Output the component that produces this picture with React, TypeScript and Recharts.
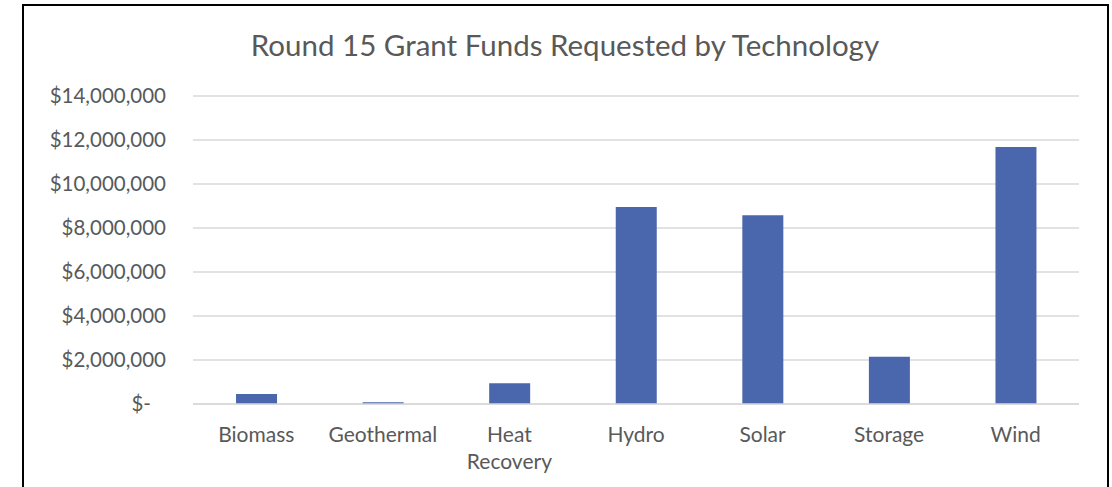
import React from "react"
import { BarChart, Bar, XAxis, YAxis, CartesianGrid } from "recharts"

const technologies = ["Biomass", "Geothermal", "Heat Recovery", "Hydro", "Solar", "Storage", "Wind"]
const fundsRequested = [460000, 80000, 940000, 8950000, 8580000, 2150000, 11680000]
const yTicks = [0, 2000000, 4000000, 6000000, 8000000, 10000000, 12000000, 14000000]

const TEXT = "#595959"
const GRID = "#d9d9d9"
const BAR = "#4A66AC"
const FONT = "'Gill Sans', Lato, 'Open Sans', sans-serif"

const chartData = technologies.map((name, i) => ({ name, funds: fundsRequested[i] }))

const fmtMoney = (v: number) => (v === 0 ? "$-" : "$" + v.toLocaleString("en-US"))

function YTick({ x, y, payload }: any) {
  const v = payload.value as number
  return (
    <text
      x={v === 0 ? x - 15 : x}
      y={y}
      dy={7}
      textAnchor="end"
      fill={TEXT}
      fontSize={20.5}
      fontFamily={FONT}
    >
      {fmtMoney(v)}
    </text>
  )
}

function XTick({ x, y, payload }: any) {
  const words = (payload.value as string) === "Heat Recovery" ? ["Heat", "Recovery"] : [payload.value]
  return (
    <text x={x} y={y} textAnchor="middle" fill={TEXT} fontSize={21} fontFamily={FONT}>
      {words.map((w: string, i: number) => (
        <tspan key={i} x={x} dy={i === 0 ? 30 : 27}>
          {w}
        </tspan>
      ))}
    </text>
  )
}

export default function App() {
  return (
    <div
      style={{
        position: "absolute",
        left: 0,
        top: 0,
        width: 1112,
        height: 487,
        overflow: "hidden",
        background: "#fff",
      }}
    >
      <div
        style={{
          position: "absolute",
          left: 22,
          top: 4,
          width: 1083,
          height: 520,
          border: "2px solid #000",
        }}
      />
      <div
        style={{
          position: "absolute",
          left: 0,
          top: 27,
          width: 1130,
          textAlign: "center",
          fontFamily: FONT,
          fontSize: 29.5,
          color: TEXT,
        }}
      >
        Round 15 Grant Funds Requested by Technology
      </div>
      <div style={{ position: "absolute", left: 0, top: 0 }}>
        <BarChart
          width={1112}
          height={487}
          data={chartData}
          margin={{ top: 96, right: 33, bottom: 23, left: 0 }}
          barCategoryGap="34%"
        >
          <CartesianGrid vertical={false} stroke={GRID} strokeWidth={1.5} />
          <XAxis
            dataKey="name"
            axisLine={{ stroke: GRID, strokeWidth: 1.5 }}
            tickLine={false}
            interval={0}
            height={60}
            tick={<XTick />}
          />
          <YAxis
            domain={[0, 14000000]}
            ticks={yTicks}
            width={193}
            axisLine={false}
            tickLine={false}
            tickMargin={21}
            tick={<YTick />}
          />
          <Bar dataKey="funds" fill={BAR} isAnimationActive={false} />
        </BarChart>
      </div>
    </div>
  )
}
